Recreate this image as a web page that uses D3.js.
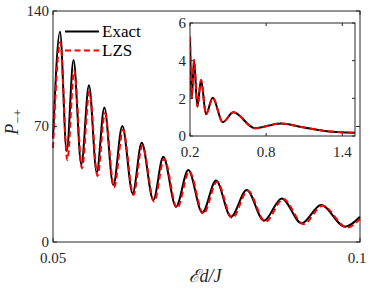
<!DOCTYPE html>
<html><head><meta charset="utf-8">
<script src="https://cdn.jsdelivr.net/npm/d3@7"></script>
<style>html,body{margin:0;padding:0;background:#fff;}svg{display:block;}</style>
</head><body>
<script>
// Main panel data
const mainX = [0.05,0.05114,0.05223,0.05334,0.05461,0.05586,0.05712,0.05836,0.05982,0.06129,0.06298,0.06445,0.06634,0.06796,0.07003,0.07204,0.07432,0.07655,0.07899,0.08155,0.08436,0.08725,0.09050,0.09365,0.09756,0.1];
const exactY = [62.8,127.5,55,110.3,47,95,42,81.5,34.5,70.3,29.5,60.2,25.5,51.7,21.4,43.6,17.8,37.2,15.3,31.5,12.9,26.4,11.3,22.4,9.3,15.3];
const lzsX = [0.05,0.05118,0.05233,0.05345,0.05472,0.05592,0.05725,0.05845,0.05995,0.0614,0.0631,0.06455,0.06648,0.0681,0.0702,0.0722,0.0745,0.0767,0.0792,0.0817,0.0846,0.0875,0.0908,0.0939,0.0979,0.1];
const lzsY = [57,121,49.7,104,44.7,91,40,78,33,68,28.5,58.5,24.5,50.5,20.5,42.8,17,36.5,14.5,31,12.3,26,10.8,22,8.8,14];
const mainYTicks = [0,70,140];
const mainXTicks = [0.05,0.1];
// Inset data
const insetX = [0.2,0.213,0.232,0.258,0.287,0.326,0.379,0.458,0.541,0.712,0.917,1.09,1.248,1.5];
const insetExact = [5.27,2.0,4.04,1.56,2.97,1.15,2.03,0.73,1.26,0.41,0.67,0.46,0.28,0.17];
const insetLZS = [5.27,2.0,4.04,1.56,2.97,1.15,2.03,0.73,1.26,0.41,0.67,0.46,0.28,0.17];
const insetYTicks = [0,2,4,6];
const insetXTicks = [0.2,0.8,1.4];
const legendLabels = ["Exact","LZS"];

const W=373,H=291;
const FF="Liberation Serif";
const svg=d3.select("body").append("svg").attr("width",W).attr("height",H);
const axCol="#262626";
const txt=(sel)=>sel.append("text").attr("font-family",FF).attr("fill","#262626");

// Main scales
const x=d3.scaleLinear().domain([0.05,0.1]).range([53,360]);
const y=d3.scaleLinear().domain([0,140]).range([242,11]);

const line=(xs,ys,sx,sy)=>d3.line().x((d,i)=>sx(xs[i])).y(d=>sy(d)).curve(d3.curveMonotoneX)(ys);

svg.append("path").attr("d",line(mainX,exactY,x,y)).attr("fill","none").attr("stroke","#000").attr("stroke-width",2);
svg.append("path").attr("d",line(lzsX,lzsY,x,y)).attr("fill","none").attr("stroke","#ff0000").attr("stroke-width",2).attr("stroke-dasharray","6,3.5");

// Main frame
svg.append("rect").attr("x",53).attr("y",11).attr("width",307).attr("height",231).attr("fill","none").attr("stroke",axCol).attr("stroke-width",1);

// Main ticks
const tl=4;
mainYTicks.forEach(t=>{
  svg.append("line").attr("x1",53).attr("x2",53+tl).attr("y1",y(t)).attr("y2",y(t)).attr("stroke",axCol);
  svg.append("line").attr("x1",360).attr("x2",360-tl).attr("y1",y(t)).attr("y2",y(t)).attr("stroke",axCol);
  txt(svg).attr("x",49).attr("y",y(t)).attr("dy","0.33em").attr("text-anchor","end").attr("font-size",15).text(t);
});
mainXTicks.forEach(t=>{
  svg.append("line").attr("x1",x(t)).attr("x2",x(t)).attr("y1",242).attr("y2",242-tl).attr("stroke",axCol);
  svg.append("line").attr("x1",x(t)).attr("x2",x(t)).attr("y1",11).attr("y2",11+tl).attr("stroke",axCol);
  txt(svg).attr("x",x(t)+(t===0.1?-3:0)).attr("y",258).attr("dy","0.35em").attr("text-anchor","middle").attr("font-size",15).text(t);
});

// Axis titles
txt(svg).attr("x",205).attr("y",282).attr("text-anchor","middle").attr("font-size",18).attr("font-style","italic").text("ℰd/J");
const yt=txt(svg).attr("transform","translate(18,122) rotate(-90)").attr("text-anchor","middle").attr("font-size",18).attr("font-style","italic");
yt.append("tspan").text("P");
yt.append("tspan").attr("font-size",13).attr("font-style","normal").attr("dy",4).text("−+");

// Legend
svg.append("line").attr("x1",65).attr("x2",99).attr("y1",31.5).attr("y2",31.5).attr("stroke","#000").attr("stroke-width",2);
svg.append("line").attr("x1",65).attr("x2",99).attr("y1",50.5).attr("y2",50.5).attr("stroke","#ff0000").attr("stroke-width",2).attr("stroke-dasharray","6,3.5");
txt(svg).attr("x",102).attr("y",31.5).attr("dy","0.35em").attr("font-size",17).attr("fill","#000").text(legendLabels[0]);
txt(svg).attr("x",102).attr("y",50.5).attr("dy","0.35em").attr("font-size",17).attr("fill","#000").text(legendLabels[1]);

// Inset
const ix=d3.scaleLinear().domain([0.2,1.5]).range([190,355]);
const iy=d3.scaleLinear().domain([0,6]).range([136,23]);
svg.append("rect").attr("x",190).attr("y",23).attr("width",165).attr("height",113).attr("fill","#fff");
svg.append("defs").append("clipPath").attr("id","ic").append("rect").attr("x",190).attr("y",23).attr("width",165).attr("height",113);
const ig=svg.append("g").attr("clip-path","url(#ic)");
ig.append("path").attr("d",line(insetX,insetExact,ix,iy)).attr("fill","none").attr("stroke","#000").attr("stroke-width",2);
ig.append("path").attr("d",line(insetX,insetLZS,ix,iy)).attr("fill","none").attr("stroke","#ff0000").attr("stroke-width",2).attr("stroke-dasharray","6,3.5");
svg.append("rect").attr("x",190).attr("y",23).attr("width",165).attr("height",113).attr("fill","none").attr("stroke",axCol).attr("stroke-width",1);
insetYTicks.forEach(t=>{
  svg.append("line").attr("x1",190).attr("x2",190+3).attr("y1",iy(t)).attr("y2",iy(t)).attr("stroke",axCol);
  svg.append("line").attr("x1",355).attr("x2",355-3).attr("y1",iy(t)).attr("y2",iy(t)).attr("stroke",axCol);
  txt(svg).attr("x",186).attr("y",iy(t)).attr("dy","0.35em").attr("text-anchor","end").attr("font-size",15).text(t);
});
insetXTicks.forEach(t=>{
  svg.append("line").attr("x1",ix(t)).attr("x2",ix(t)).attr("y1",136).attr("y2",136-3).attr("stroke",axCol);
  svg.append("line").attr("x1",ix(t)).attr("x2",ix(t)).attr("y1",23).attr("y2",23+3).attr("stroke",axCol);
  txt(svg).attr("x",ix(t)).attr("y",152).attr("dy","0.35em").attr("text-anchor","middle").attr("font-size",15).text(t);
});
</script>
</body></html>
